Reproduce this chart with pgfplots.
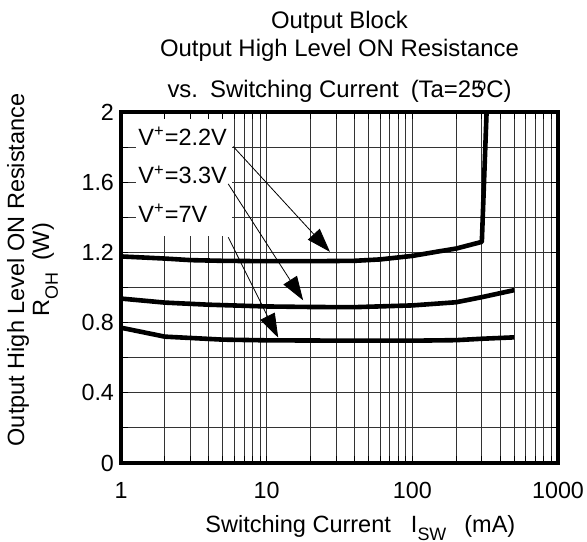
\documentclass[border=0pt]{standalone}
\usepackage{pgfplots}
\pgfplotsset{compat=1.18}
\usepackage{fontspec}
\setmainfont{Liberation Sans}
\usetikzlibrary{arrows.meta,calc}
\pgfplotsset{
  layers/mylayers/.define layer set={
    axis background,axis grid,maskl,axis ticks,axis lines,axis tick labels,pre main,main,axis descriptions,axis foreground
  }{
    grid style={/pgfplots/on layer=axis grid},
    tick style={/pgfplots/on layer=axis ticks},
    axis line style={/pgfplots/on layer=axis lines},
    label style={/pgfplots/on layer=axis descriptions},
    legend style={/pgfplots/on layer=axis descriptions},
    title style={/pgfplots/on layer=axis descriptions},
    ticklabel style={/pgfplots/on layer=axis tick labels},
    axis background@ style={/pgfplots/on layer=axis background},
    3d box foreground style={/pgfplots/on layer=axis foreground},
  },
}
\begin{document}
\begin{tikzpicture}
\begin{axis}[
  set layers=mylayers,
  scale only axis,
  width=218.5bp, height=175.5bp,
  xmode=log, xmin=1, xmax=1000, ymin=0, ymax=2,
  xtick={1,10,100,1000}, xticklabels={1,10,100,1000},
  ytick={0,0.4,0.8,1.2,1.6,2}, yticklabels={0,0.4,0.8,1.2,1.6,2},
  minor ytick={0.2,0.6,1.0,1.4,1.8},
  grid=both,
  major grid style={black!80, line width=0.5bp},
  minor grid style={black!80, line width=0.5bp},
  tick align=inside,
  major tick length=3.5bp, minor tick length=3.5bp,
  tick style={black, line width=0.5bp},
  axis line style={line width=1.6bp},
  ticklabel style={font=\fontsize{11.7}{13}\selectfont},
  xticklabel style={yshift=-6bp},
  yticklabel style={xshift=0bp},
]
\addplot[fill=white, draw=none, on layer=maskl] coordinates {(1.26,1.293) (5.75,1.293) (5.75,2) (1.26,2)} -- cycle;
\addplot[black, line width=2.3bp, line join=round] coordinates {
(1,1.177) (2,1.165) (3,1.156) (5,1.152) (10,1.150) (20,1.150) (40,1.152) (60,1.160) (100,1.180) (150,1.205) (200,1.222) (300,1.26) (325,2.05)};
\addplot[black, line width=2.3bp, line join=round] coordinates {
(1,0.937) (2,0.914) (4,0.902) (10,0.892) (20,0.889) (40,0.888) (100,0.898) (200,0.916) (300,0.945) (500,0.985)};
\addplot[black, line width=2.3bp, line join=round] coordinates {
(1,0.771) (2,0.72) (5,0.703) (10,0.699) (40,0.697) (100,0.697) (200,0.700) (300,0.708) (500,0.716)};
\node[anchor=base west, inner sep=0pt, font=\fontsize{11.8}{13}\selectfont] at (axis cs:1.31,1.809) {V\textsuperscript{+}=2.2V};
\node[anchor=base west, inner sep=0pt, font=\fontsize{11.8}{13}\selectfont] at (axis cs:1.31,1.59) {V\textsuperscript{+}=3.3V};
\node[anchor=base west, inner sep=0pt, font=\fontsize{11.8}{13}\selectfont] at (axis cs:1.31,1.371) {V\textsuperscript{+}=7V};
\draw[line width=0.4bp, -{Triangle[length=12bp, width=8bp]}] (axis cs:5.90,1.803) -- (axis cs:27.2,1.203);
\draw[line width=0.4bp, -{Triangle[length=12bp, width=8bp]}] (axis cs:5.45,1.590) -- (axis cs:17.8,0.927);
\draw[line width=0.4bp, -{Triangle[length=12bp, width=8bp]}] (axis cs:5.45,1.286) -- (axis cs:12.0,0.714);
\coordinate (BL) at (rel axis cs:0,0);
\coordinate (TR) at (rel axis cs:1,1);
\coordinate (ML) at (rel axis cs:0,0.5);
\coordinate (TC) at (rel axis cs:0.5,1);
\end{axis}
\begin{scope}[font=\fontsize{12}{14}\selectfont]
\node[anchor=base] at ($(TC)+(0,41.5bp)$) {Output Block};
\node[anchor=base] at ($(TC)+(0,27.5bp)$) {Output High Level ON Resistance};
\node[anchor=base] at ($(TC)+(0,7.5bp)$) {vs.\hspace{6bp}Switching Current\hspace{6bp}(Ta=25\kern-0.3em\raisebox{0.5ex}{\fontsize{8}{9}\selectfont o}C)};
\end{scope}
\begin{scope}[font=\fontsize{11.8}{14}\selectfont]
\node[anchor=base west, inner sep=0pt] at ($(BL)+(42bp,-34.85bp)$) {Switching Current\hspace{10bp}I\raisebox{-0.6ex}{\fontsize{9}{9}\selectfont SW}\hspace{9bp}(mA)};
\node[rotate=90] at ($(ML)+(-51.5bp,8.8bp)$) {Output High Level ON Resistance};
\node[rotate=90] at ($(ML)+(-38bp,8.8bp)$) {R\raisebox{-0.7ex}{\fontsize{9}{9}\selectfont OH}\hspace{6bp}(W)};
\end{scope}
\pgfresetboundingbox
\path ($(BL)+(-60.5bp,-39.35bp)$) rectangle ($(TR)+(14.5bp,56bp)$);
\end{tikzpicture}
\end{document}
